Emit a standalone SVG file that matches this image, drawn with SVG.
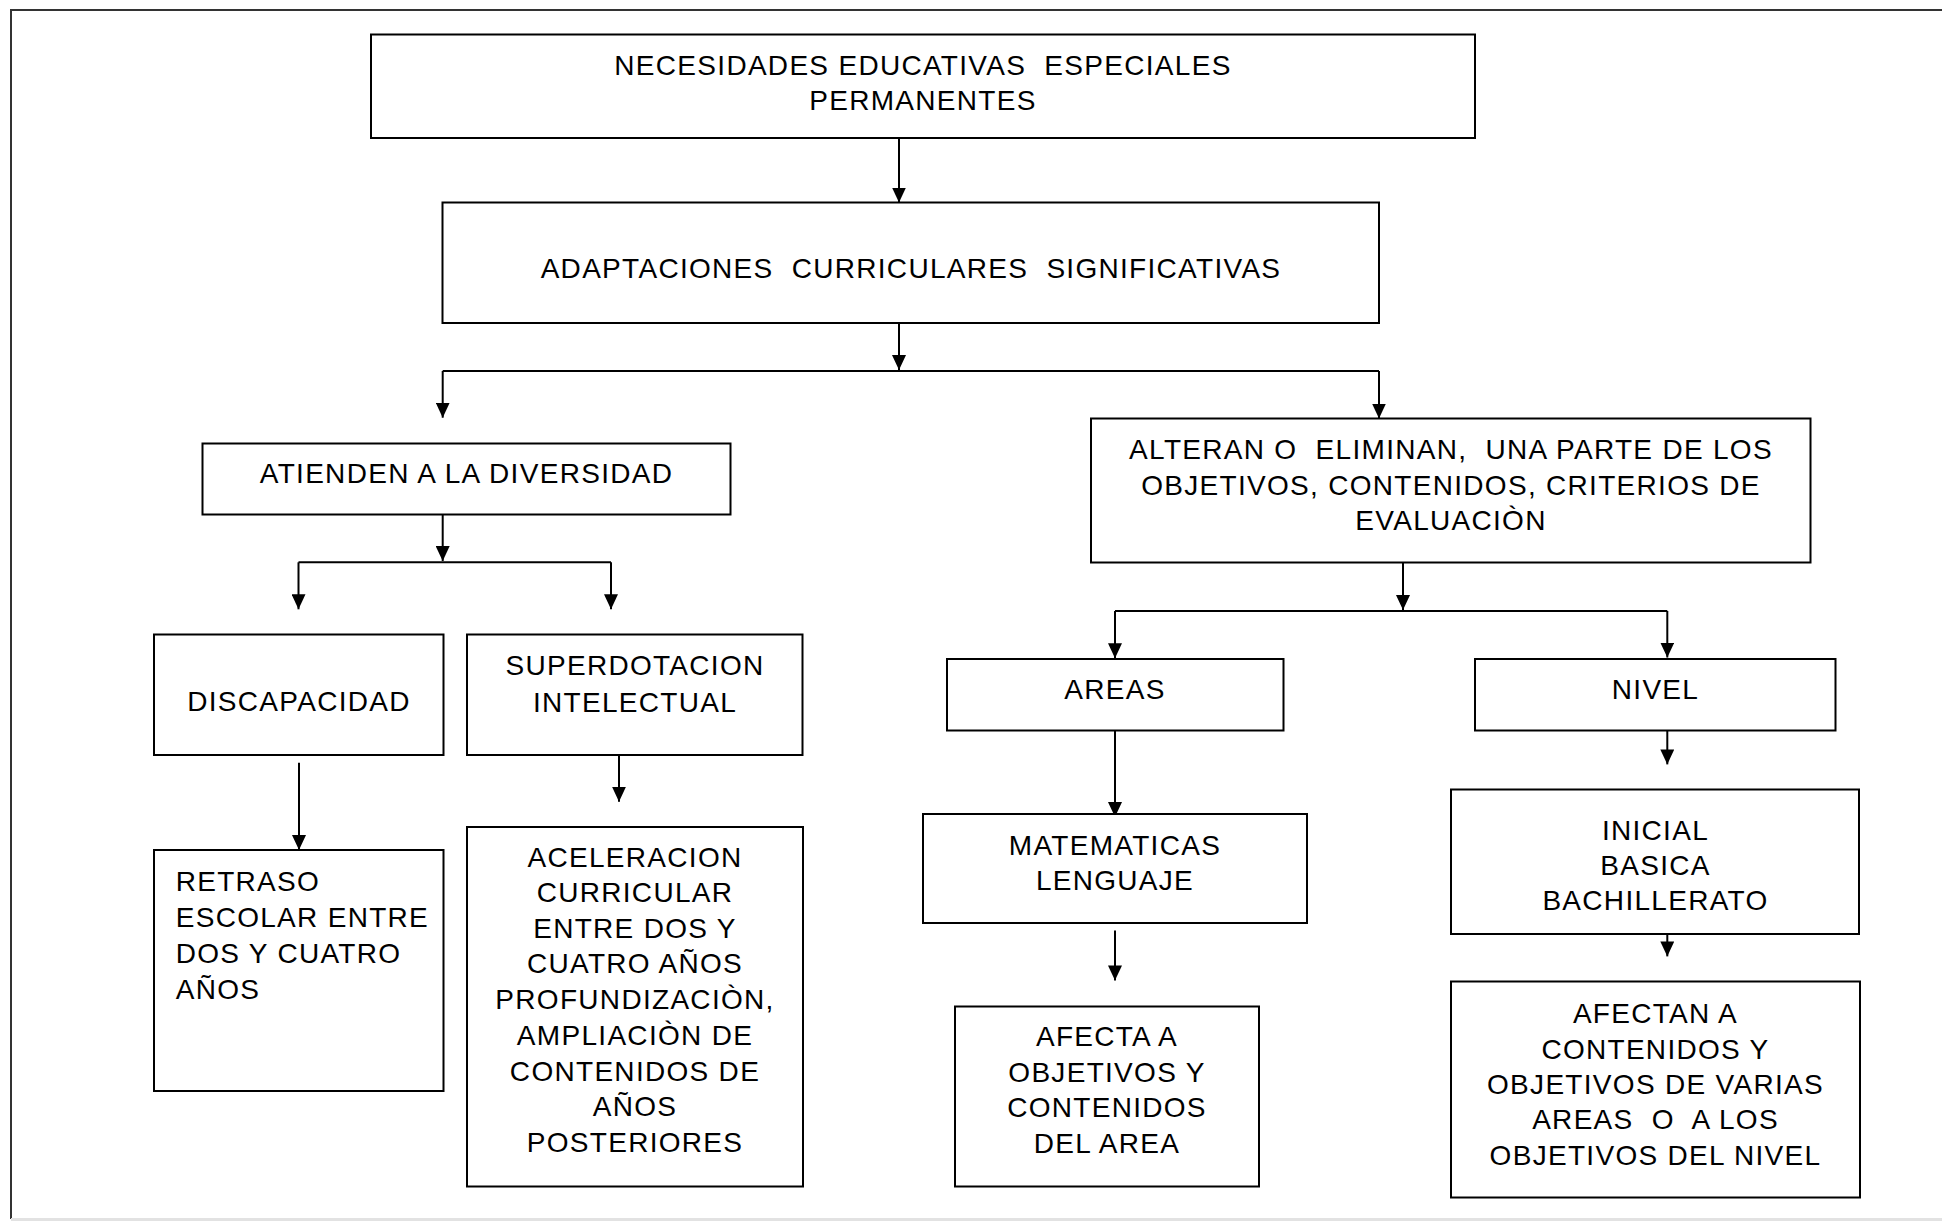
<svg xmlns="http://www.w3.org/2000/svg" width="1942" height="1221" viewBox="0 0 1942 1221" xml:space="preserve">
  <style>
    .box { fill: #ffffff; stroke: #000000; stroke-width: 2; }
    .lbl { font-family: "Liberation Sans", Arial, sans-serif; font-size: 28px; letter-spacing: 1.3px; fill: #000000; white-space: pre; }
    .mid { text-anchor: middle; }
    .wire { fill: none; stroke: #000000; stroke-width: 2; }
    .arrow { fill: none; stroke: #000000; stroke-width: 2; marker-end: url(#head); }
  </style>
  <defs>
    <marker id="head" viewBox="0 0 15 14" refX="15" refY="7" markerWidth="15" markerHeight="14" markerUnits="userSpaceOnUse" orient="auto">
      <path d="M0,0 L15,7 L0,14 Z" fill="#000000"/>
    </marker>
  </defs>

  <rect width="1942" height="1221" fill="#ffffff"/>

  <!-- page frame -->
  <g id="frame">
    <path d="M1942,10 H11 V1219" fill="none" stroke="#333333" stroke-width="2"/>
    <line x1="11" y1="1219.5" x2="1942" y2="1219.5" stroke="#e2e2e2" stroke-width="3"/>
  </g>

  <!-- connectors -->
  <g id="connectors">
    <path class="arrow" d="M899,130 V202.5"/>
    <path class="arrow" d="M899,323 V370"/>
    <path class="wire" d="M442.7,371 H1379"/>
    <path class="arrow" d="M442.7,371 V417.7"/>
    <path class="arrow" d="M1379,371 V418.5"/>

    <path class="arrow" d="M442.7,514.5 V561"/>
    <path class="wire" d="M298.5,562.3 H611"/>
    <path class="arrow" d="M298.5,562.3 V609.3"/>
    <path class="arrow" d="M611,562.3 V609.3"/>
    <path class="arrow" d="M299,762.7 V850"/>
    <path class="arrow" d="M619,755 V801.7"/>

    <path class="arrow" d="M1403,562.5 V610"/>
    <path class="wire" d="M1115,611 H1667.3"/>
    <path class="arrow" d="M1115,611 V658.3"/>
    <path class="arrow" d="M1667.3,611 V657.5"/>
    <path class="arrow" d="M1115,730.6 V817"/>
    <path class="arrow" d="M1115,930.4 V980.4"/>
    <path class="arrow" d="M1667.3,716.8 V764.4"/>
    <path class="arrow" d="M1667.3,934 V956.4"/>
  </g>

  <g id="n-necesidades">
    <rect class="box" x="371" y="34.5" width="1104" height="103.5"/>
    <text class="lbl mid" x="923" y="75" xml:space="preserve">NECESIDADES EDUCATIVAS  ESPECIALES</text>
    <text class="lbl mid" x="923" y="110">PERMANENTES</text>
  </g>

  <g id="n-adaptaciones">
    <rect class="box" x="442.5" y="202.5" width="936.5" height="120.5"/>
    <text class="lbl mid" x="911" y="278.3" xml:space="preserve">ADAPTACIONES  CURRICULARES  SIGNIFICATIVAS</text>
  </g>

  <g id="n-atienden">
    <rect class="box" x="202.5" y="443.5" width="528" height="71"/>
    <text class="lbl mid" x="466.5" y="482.7">ATIENDEN A LA DIVERSIDAD</text>
  </g>

  <g id="n-alteran">
    <rect class="box" x="1091" y="418.5" width="719.5" height="144"/>
    <text class="lbl mid" x="1451" y="459" xml:space="preserve">ALTERAN O  ELIMINAN,  UNA PARTE DE LOS</text>
    <text class="lbl mid" x="1451" y="494.5">OBJETIVOS, CONTENIDOS, CRITERIOS DE</text>
    <text class="lbl mid" x="1451" y="530">EVALUACIÒN</text>
  </g>

  <g id="n-discapacidad">
    <rect class="box" x="154" y="634.5" width="289.5" height="120.5"/>
    <text class="lbl mid" x="299" y="710.7">DISCAPACIDAD</text>
  </g>

  <g id="n-superdotacion">
    <rect class="box" x="467" y="634.5" width="335.5" height="120.5"/>
    <text class="lbl mid" x="635" y="675">SUPERDOTACION</text>
    <text class="lbl mid" x="635" y="711.5">INTELECTUAL</text>
  </g>

  <g id="n-retraso">
    <rect class="box" x="154" y="850" width="289.5" height="241"/>
    <text class="lbl" x="175.7" y="890.7">RETRASO</text>
    <text class="lbl" x="175.7" y="926.7">ESCOLAR ENTRE</text>
    <text class="lbl" x="175.7" y="962.7">DOS Y CUATRO</text>
    <text class="lbl" x="175.7" y="998.5">AÑOS</text>
  </g>

  <g id="n-aceleracion">
    <rect class="box" x="467" y="827" width="336" height="359.5"/>
    <text class="lbl mid" x="635" y="866.7">ACELERACION</text>
    <text class="lbl mid" x="635" y="902">CURRICULAR</text>
    <text class="lbl mid" x="635" y="937.5">ENTRE DOS Y</text>
    <text class="lbl mid" x="635" y="973.3">CUATRO AÑOS</text>
    <text class="lbl mid" x="635" y="1009">PROFUNDIZACIÒN,</text>
    <text class="lbl mid" x="635" y="1044.7">AMPLIACIÒN DE</text>
    <text class="lbl mid" x="635" y="1080.5">CONTENIDOS DE</text>
    <text class="lbl mid" x="635" y="1116">AÑOS</text>
    <text class="lbl mid" x="635" y="1151.7">POSTERIORES</text>
  </g>

  <g id="n-areas">
    <rect class="box" x="947" y="659" width="336.5" height="71.5"/>
    <text class="lbl mid" x="1115" y="699">AREAS</text>
  </g>

  <g id="n-nivel">
    <rect class="box" x="1475" y="659" width="360.5" height="71.5"/>
    <text class="lbl mid" x="1655.5" y="699">NIVEL</text>
  </g>

  <g id="n-matematicas">
    <rect class="box" x="923" y="814" width="384" height="109"/>
    <text class="lbl mid" x="1115" y="854.8">MATEMATICAS</text>
    <text class="lbl mid" x="1115" y="889.7">LENGUAJE</text>
  </g>

  <g id="n-inicial">
    <rect class="box" x="1451" y="789.5" width="408" height="144.5"/>
    <text class="lbl mid" x="1655.5" y="839.5">INICIAL</text>
    <text class="lbl mid" x="1655.5" y="875">BASICA</text>
    <text class="lbl mid" x="1655.5" y="910">BACHILLERATO</text>
  </g>

  <g id="n-afecta">
    <rect class="box" x="955" y="1006.5" width="304" height="180"/>
    <text class="lbl mid" x="1107" y="1046">AFECTA A</text>
    <text class="lbl mid" x="1107" y="1082">OBJETIVOS Y</text>
    <text class="lbl mid" x="1107" y="1116.5">CONTENIDOS</text>
    <text class="lbl mid" x="1107" y="1152.8">DEL AREA</text>
  </g>

  <g id="n-afectan">
    <rect class="box" x="1451" y="981.5" width="409" height="216"/>
    <text class="lbl mid" x="1655.5" y="1022.7">AFECTAN A</text>
    <text class="lbl mid" x="1655.5" y="1058.5">CONTENIDOS Y</text>
    <text class="lbl mid" x="1655.5" y="1093.8">OBJETIVOS DE VARIAS</text>
    <text class="lbl mid" x="1655.5" y="1129" xml:space="preserve">AREAS  O  A LOS</text>
    <text class="lbl mid" x="1655.5" y="1164.7">OBJETIVOS DEL NIVEL</text>
  </g>
</svg>
